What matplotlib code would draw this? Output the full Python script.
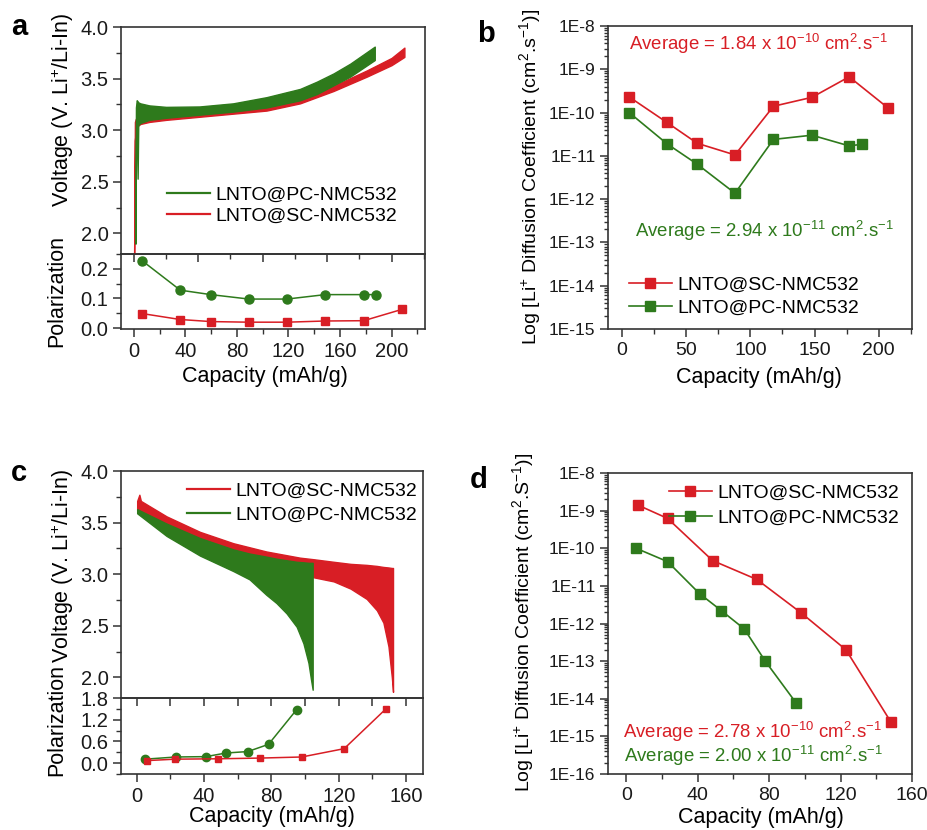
import numpy as np
import matplotlib.pyplot as plt
from matplotlib.ticker import MultipleLocator, LogLocator, FuncFormatter, NullFormatter, FormatStrFormatter

W, H = 927, 830
RED = '#d81e25'
GREEN = '#2e7a1c'
AXC = '#333333'

plt.rcParams['font.family'] = ['Liberation Sans', 'DejaVu Sans']
plt.rcParams['mathtext.fontset'] = 'custom'
plt.rcParams['mathtext.rm'] = 'Liberation Sans'
plt.rcParams['mathtext.it'] = 'Liberation Sans:italic'
plt.rcParams['mathtext.bf'] = 'Liberation Sans:bold'

# ---- panel a: GITT charge envelopes (upper / lower bound of the pulse band)
a_pc_cap = [1.2, 1.6, 2.2, 2.9, 3.4, 5, 12, 25, 51, 77, 103, 129, 142, 155, 168, 187]
a_pc_top = [1.9, 3.22, 3.29, 3.28, 3.27, 3.26, 3.24, 3.226, 3.23, 3.26, 3.32, 3.40, 3.47, 3.55, 3.645, 3.81]
a_pc_low = [1.9, 2.9, 3.03, 2.53, 3.05, 3.07, 3.10, 3.12, 3.15, 3.18, 3.22, 3.29, 3.35, 3.435, 3.52, 3.68]

a_sc_cap = [0.2, 0.8, 1.5, 3, 5, 12, 25, 51, 77, 103, 129, 155, 181, 200, 210]
a_sc_top = [1.8, 3.08, 3.11, 3.12, 3.125, 3.13, 3.145, 3.17, 3.19, 3.23, 3.31, 3.43, 3.58, 3.70, 3.80]
a_sc_low = [1.8, 2.9, 3.0, 3.04, 3.06, 3.08, 3.10, 3.13, 3.16, 3.19, 3.26, 3.38, 3.52, 3.63, 3.71]

# panel a polarization
a_pol_pc_x = [6.2, 36, 59.7, 89.3, 118.8, 148.6, 178.4, 187.7]
a_pol_pc_y = [0.228, 0.128, 0.113, 0.098, 0.098, 0.113, 0.113, 0.113]
a_pol_sc_x = [6.5, 36, 60, 89, 119, 148.6, 178.4, 208]
a_pol_sc_y = [0.049, 0.029, 0.022, 0.020, 0.020, 0.024, 0.025, 0.063]

# ---- panel b: diffusion coefficient (charge)
b_sc_x = [5.5, 35, 58.6, 88, 118, 148, 177, 207]
b_sc_y = [2.3e-10, 5.9e-11, 1.95e-11, 1.05e-11, 1.4e-10, 2.25e-10, 6.7e-10, 1.3e-10]
b_pc_x = [5.5, 35, 58.6, 88, 118, 148, 177, 187]
b_pc_y = [1.0e-10, 1.9e-11, 6.4e-12, 1.37e-12, 2.4e-11, 3.0e-11, 1.7e-11, 1.85e-11]

# ---- panel c: GITT discharge envelopes
c_pc_cap = [0.3, 17.8, 37.6, 57.4, 67, 77, 83, 89, 95, 99, 102, 103.5, 104.5]
c_pc_top = [3.63, 3.49, 3.35, 3.24, 3.20, 3.17, 3.15, 3.135, 3.12, 3.115, 3.11, 3.11, 3.11]
c_pc_low = [3.59, 3.37, 3.18, 3.03, 2.95, 2.80, 2.72, 2.62, 2.49, 2.33, 2.14, 1.98, 1.88]

c_sc_cap = [0.3, 1.6, 2.5, 17.8, 37.6, 57.4, 77, 97, 105, 117, 127, 136.6, 142.6, 146.5, 149.5, 151.5, 152.2]
c_sc_top = [3.71, 3.77, 3.71, 3.56, 3.41, 3.30, 3.22, 3.16, 3.145, 3.12, 3.10, 3.09, 3.08, 3.07, 3.065, 3.06, 3.06]
c_sc_low = [3.62, 3.62, 3.62, 3.45, 3.30, 3.18, 3.08, 3.00, 2.97, 2.93, 2.86, 2.76, 2.65, 2.53, 2.30, 2.0, 1.86]

# panel c polarization
c_pol_pc_x = [5.1, 23.3, 41.2, 53, 66, 78.3, 95]
c_pol_pc_y = [0.11, 0.17, 0.18, 0.28, 0.32, 0.52, 1.48]
c_pol_sc_x = [5.9, 23, 48, 73.3, 98, 123.2, 148]
c_pol_sc_y = [0.07, 0.11, 0.12, 0.14, 0.17, 0.40, 1.50]

# ---- panel d: diffusion coefficient (discharge)
d_sc_x = [6.5, 23.1, 48.3, 73.1, 98, 123, 148.2]
d_sc_y = [1.4e-9, 6.2e-10, 4.7e-11, 1.48e-11, 1.9e-12, 2.0e-13, 2.4e-15]
d_pc_x = [5.4, 23.1, 41, 53.2, 66, 77.8, 95.2]
d_pc_y = [1.0e-10, 4.4e-11, 6.2e-12, 2.2e-12, 7.2e-13, 1.0e-13, 7.6e-15]

SC = 'LNTO@SC-NMC532'
PC = 'LNTO@PC-NMC532'

fig = plt.figure(figsize=(W / 100, H / 100), dpi=100)


def box(l, t, r, b):
    ax = fig.add_axes([l / W, 1 - b / H, (r - l) / W, (b - t) / H])
    ax.set_facecolor('none')
    return ax


def ftext(x, y, s, **kw):
    fig.text(x / W, 1 - y / H, s, **kw)


def style(ax, fs=14.5):
    for s in ax.spines.values():
        s.set_color(AXC)
        s.set_linewidth(1.2)
    ax.tick_params(which='both', direction='out', top=False, right=False,
                   labelsize=fs, color=AXC, labelcolor='#1a1a1a')
    ax.tick_params(which='major', length=6, width=1.1, pad=3)
    ax.tick_params(which='minor', length=3.5, width=1.0)


def log_axis(ax):
    ax.set_yscale('log')
    ax.yaxis.set_major_locator(LogLocator(base=10, numticks=20))
    ax.yaxis.set_minor_locator(LogLocator(base=10, subs=np.arange(2, 10), numticks=20))
    ax.yaxis.set_major_formatter(FuncFormatter(lambda v, p: '1E%d' % round(np.log10(v))))
    ax.yaxis.set_minor_formatter(NullFormatter())
    ax.tick_params(axis='y', labelsize=12.5)
    ax.tick_params(axis='y', which='minor', length=3)


def put_legend(ax, x, y, spacing):
    ax.legend(loc='upper left', bbox_to_anchor=(x / W, 1 - y / H), bbox_transform=fig.transFigure,
              frameon=False, fontsize=14, handlelength=2.2, handletextpad=0.3,
              labelspacing=spacing, borderpad=0, borderaxespad=0)


# ================= panel a
axa2 = box(121, 254, 425, 329)
axa1 = box(121, 27, 425, 254)
for ax in (axa1, axa2):
    style(ax)
    ax.set_xlim(-10, 226)

axa1.fill_between(a_sc_cap, a_sc_low, a_sc_top, color=RED, lw=1.0)
axa1.fill_between(a_pc_cap, a_pc_low, a_pc_top, color=GREEN, lw=1.0)
axa1.plot([], [], color=GREEN, lw=1.6, label=PC)
axa1.plot([], [], color=RED, lw=1.6, label=SC)
axa1.set_ylim(1.8, 4.0)
axa1.yaxis.set_major_locator(MultipleLocator(0.5))
axa1.yaxis.set_minor_locator(MultipleLocator(0.25))
axa1.yaxis.set_major_formatter(FormatStrFormatter('%.1f'))
axa1.xaxis.set_major_locator(MultipleLocator(50))
axa1.xaxis.set_minor_locator(MultipleLocator(25))
axa1.tick_params(axis='x', labelbottom=False)
put_legend(axa1, 167, 186, 0.2)

axa2.plot(a_pol_pc_x, a_pol_pc_y, '-o', color=GREEN, lw=1.1, ms=6.5)
axa2.plot(a_pol_sc_x, a_pol_sc_y, '-s', color=RED, lw=1.1, ms=5.5)
axa2.set_ylim(-0.003, 0.25)
axa2.set_yticks([0.0, 0.1, 0.2])
axa2.yaxis.set_minor_locator(MultipleLocator(0.05))
axa2.yaxis.set_major_formatter(FormatStrFormatter('%.1f'))
axa2.xaxis.set_major_locator(MultipleLocator(40))
axa2.xaxis.set_minor_locator(MultipleLocator(20))

ftext(63, 110, 'Voltage (V. Li$^{+}$/Li-In)', rotation=90, ha='center', va='center', fontsize=15.5)
ftext(57, 291, 'Polarization', rotation=90, ha='center', va='center', fontsize=15.5)
ftext(265, 376, 'Capacity (mAh/g)', ha='center', va='center', fontsize=15.5)
ftext(11, 35, 'a', fontsize=21, fontweight='bold', va='baseline')

# ================= panel b
axb = box(608, 26, 912, 329)
style(axb, fs=14)
axb.plot(b_sc_x, b_sc_y, '-s', color=RED, lw=1.2, ms=7.5, label=SC)
axb.plot(b_pc_x, b_pc_y, '-s', color=GREEN, lw=1.2, ms=7.5, label=PC)
axb.set_xlim(-11, 226)
axb.set_ylim(1e-15, 1e-8)
axb.xaxis.set_major_locator(MultipleLocator(50))
axb.xaxis.set_minor_locator(MultipleLocator(25))
log_axis(axb)
put_legend(axb, 629, 276, 0.3)
ftext(629, 50, 'Average = 1.84 x 10$^{-10}$ cm$^{2}$.s$^{-1}$', color=RED, fontsize=13.4, va='baseline')
ftext(635, 236.7, 'Average = 2.94 x 10$^{-11}$ cm$^{2}$.s$^{-1}$', color=GREEN, fontsize=13.4, va='baseline')
ftext(530, 177, 'Log [Li$^{+}$ Diffusion Coefficient (cm$^{2}$.s$^{-1}$)]', rotation=90,
      ha='center', va='center', fontsize=14)
ftext(759, 377, 'Capacity (mAh/g)', ha='center', va='center', fontsize=15.5)
ftext(477, 42, 'b', fontsize=21, fontweight='bold', va='baseline')

# ================= panel c
axc2 = box(121, 698, 423, 774)
axc1 = box(121, 471, 423, 698)
for ax in (axc1, axc2):
    style(ax)
    ax.set_xlim(-9.3, 170)

axc1.fill_between(c_sc_cap, c_sc_low, c_sc_top, color=RED, lw=1.0)
axc1.fill_between(c_pc_cap, c_pc_low, c_pc_top, color=GREEN, lw=1.0)
axc1.plot([], [], color=RED, lw=1.6, label=SC)
axc1.plot([], [], color=GREEN, lw=1.6, label=PC)
axc1.set_ylim(1.8, 4.0)
axc1.set_yticks([2.0, 2.5, 3.0, 3.5, 4.0])
axc1.yaxis.set_minor_locator(MultipleLocator(0.25))
axc1.yaxis.set_major_formatter(FormatStrFormatter('%.1f'))
axc1.xaxis.set_major_locator(MultipleLocator(20))
axc1.tick_params(axis='x', labelbottom=False)
put_legend(axc1, 187, 482, 0.35)

axc2.plot(c_pol_pc_x, c_pol_pc_y, '-o', color=GREEN, lw=1.1, ms=6)
axc2.plot(c_pol_sc_x, c_pol_sc_y, '-s', color=RED, lw=1.1, ms=5)
axc2.set_ylim(-0.3, 1.8)
axc2.set_yticks([0.0, 0.6, 1.2, 1.8])
axc2.yaxis.set_minor_locator(MultipleLocator(0.3))
axc2.yaxis.set_major_formatter(FormatStrFormatter('%.1f'))
axc2.xaxis.set_major_locator(MultipleLocator(40))
axc2.xaxis.set_minor_locator(MultipleLocator(20))

ftext(63, 566, 'Voltage (V. Li$^{+}$/Li-In)', rotation=90, ha='center', va='center', fontsize=15.5)
ftext(57, 720, 'Polarization', rotation=90, ha='center', va='center', fontsize=15.5)
ftext(272, 816, 'Capacity (mAh/g)', ha='center', va='center', fontsize=15.5)
ftext(11, 481, 'c', fontsize=21, fontweight='bold', va='baseline')

# ================= panel d
axd = box(608, 473, 912, 774)
style(axd, fs=14)
axd.plot(d_sc_x, d_sc_y, '-s', color=RED, lw=1.2, ms=6.5, label=SC)
axd.plot(d_pc_x, d_pc_y, '-s', color=GREEN, lw=1.2, ms=6.5, label=PC)
axd.set_xlim(-10.3, 160)
axd.set_ylim(1e-16, 1e-8)
axd.xaxis.set_major_locator(MultipleLocator(40))
axd.xaxis.set_minor_locator(MultipleLocator(20))
log_axis(axd)
put_legend(axd, 669, 484, 0.4)
ftext(623, 738, 'Average = 2.78 x 10$^{-10}$ cm$^{2}$.s$^{-1}$', color=RED, fontsize=13.4, va='baseline')
ftext(624, 761.5, 'Average = 2.00 x 10$^{-11}$ cm$^{2}$.s$^{-1}$', color=GREEN, fontsize=13.4, va='baseline')
ftext(523, 622, 'Log [Li$^{+}$ Diffusion Coefficient (cm$^{2}$.S$^{-1}$)]', rotation=90,
      ha='center', va='center', fontsize=14)
ftext(761, 817, 'Capacity (mAh/g)', ha='center', va='center', fontsize=15.5)
ftext(470, 488, 'd', fontsize=21, fontweight='bold', va='baseline')

fig.savefig('out.png', dpi=100)
